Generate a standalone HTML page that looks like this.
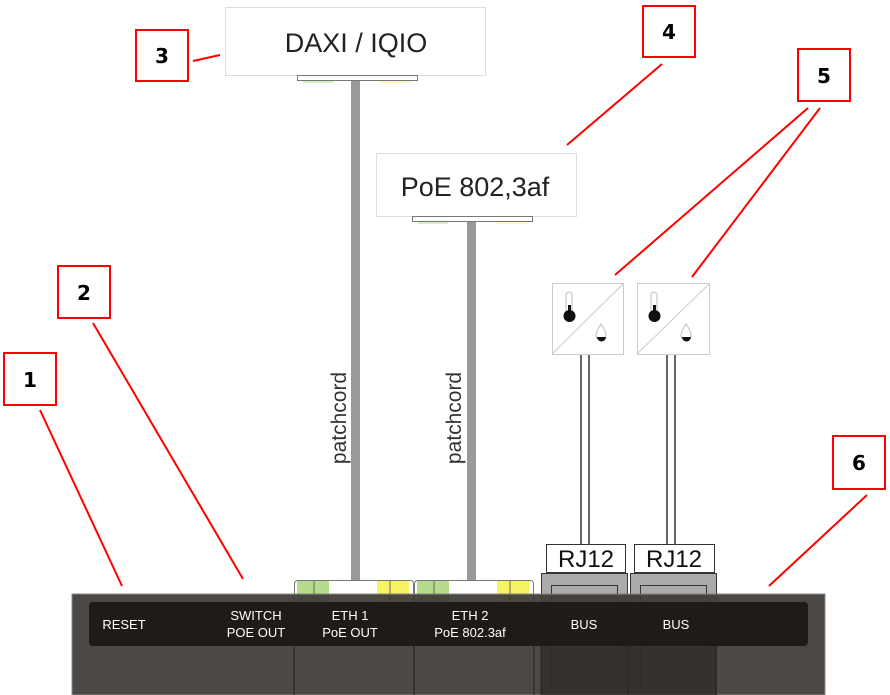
<!DOCTYPE html>
<html><head><meta charset="utf-8"><style>
html,body{margin:0;padding:0;background:#fff;width:890px;height:695px;overflow:hidden}
svg{display:block}
.n{font-family:"DejaVu Sans",sans-serif;font-weight:bold;font-size:20px;text-anchor:middle}
.w{font-family:"Liberation Sans",sans-serif;fill:#fff;font-size:13px;text-anchor:middle}
</style></head><body>
<svg width="890" height="695" viewBox="0 0 890 695" xmlns="http://www.w3.org/2000/svg">
<rect x="225.5" y="7.5" width="260" height="68" fill="#fff" stroke="#ddd"/>
<text x="356" y="52" font-family="Liberation Sans,sans-serif" font-size="27" text-anchor="middle" fill="#222">DAXI / IQIO</text>
<rect x="297.5" y="75.5" width="120" height="5" fill="#fff" stroke="#777"/>
<line x1="303" y1="82" x2="333" y2="82" stroke="#b5dc8a"/><line x1="380" y1="82" x2="412" y2="82" stroke="#f4f08a"/>
<rect x="351" y="81" width="9" height="505" fill="#999"/>
<rect x="376.5" y="153.5" width="200" height="63" fill="#fff" stroke="#ddd"/>
<text x="475" y="196" font-family="Liberation Sans,sans-serif" font-size="27" text-anchor="middle" fill="#222">PoE 802,3af</text>
<rect x="412.5" y="216.5" width="120" height="5" fill="#fff" stroke="#777"/>
<line x1="418" y1="223" x2="448" y2="223" stroke="#b5dc8a"/><line x1="496" y1="223" x2="528" y2="223" stroke="#f4f08a"/>
<rect x="467" y="222" width="9" height="364" fill="#999"/>
<text transform="translate(339,418) rotate(-90)" font-family="Liberation Sans,sans-serif" font-size="21" text-anchor="middle" fill="#333" dy="7">patchcord</text>
<text transform="translate(454,418) rotate(-90)" font-family="Liberation Sans,sans-serif" font-size="21" text-anchor="middle" fill="#333" dy="7">patchcord</text>
<g stroke="#ccc" fill="#fff">
<rect x="552.5" y="283.5" width="71" height="71"/><line x1="552" y1="354" x2="623" y2="284"/>
<rect x="637.5" y="283.5" width="72" height="71"/><line x1="637" y1="354" x2="709" y2="284"/>
</g>
<g fill="none" stroke="#bbb"><path d="M601 324 q-5 7 -5 11 a5 5 0 0 0 10 0 q0 -4 -5 -11z"/><path d="M686 324 q-5 7 -5 11 a5 5 0 0 0 10 0 q0 -4 -5 -11z"/>
<rect x="566" y="292" width="6" height="24" rx="3"/><rect x="651" y="292" width="6" height="24" rx="3"/></g>
<g fill="#111">
<rect x="568" y="305" width="3" height="10"/><circle cx="569.5" cy="316" r="6"/>
<rect x="653" y="305" width="3" height="10"/><circle cx="654.5" cy="316" r="6"/>
<path d="M597 337 a4 4 0 0 0 9 0z"/><path d="M682 337 a4 4 0 0 0 9 0z"/>
</g>
<g stroke="#333" stroke-width="1.5">
<line x1="581" y1="355" x2="581" y2="545"/><line x1="589" y1="355" x2="589" y2="545"/>
<line x1="667" y1="355" x2="667" y2="545"/><line x1="675" y1="355" x2="675" y2="545"/>
</g>
<g stroke="#333" fill="#fff"><rect x="546.5" y="544.5" width="79" height="28"/><rect x="634.5" y="544.5" width="80" height="28"/></g>
<text x="586" y="567" font-family="Liberation Sans,sans-serif" font-size="24" text-anchor="middle" fill="#111">RJ12</text>
<text x="674" y="567" font-family="Liberation Sans,sans-serif" font-size="24" text-anchor="middle" fill="#111">RJ12</text>
<g stroke="#333" fill="#aaa"><rect x="541.5" y="573.5" width="86" height="122"/><rect x="630.5" y="573.5" width="86" height="122"/>
<rect x="551.5" y="585.5" width="66" height="110"/><rect x="640.5" y="585.5" width="66" height="110"/></g>
<rect x="294.5" y="580.5" width="119" height="115" rx="3" fill="#fff" stroke="#777"/>
<rect x="414.5" y="580.5" width="119" height="115" rx="3" fill="#fff" stroke="#777"/>
<rect x="297" y="581" width="32" height="20" fill="#b5dc8a"/><rect x="377" y="581" width="32" height="20" fill="#f7f365"/>
<rect x="417" y="581" width="32" height="20" fill="#b5dc8a"/><rect x="497" y="581" width="32" height="20" fill="#f7f365"/>
<g stroke="#666"><line x1="314" y1="581" x2="314" y2="600"/><line x1="390" y1="581" x2="390" y2="600"/><line x1="434" y1="581" x2="434" y2="600"/><line x1="510" y1="581" x2="510" y2="600"/></g>
<rect x="72" y="594" width="753" height="101" fill="#3e3a38" fill-opacity="0.93" stroke="#8a8886"/>
<rect x="541" y="646" width="176" height="49" fill="#2a2624" fill-opacity="0.6"/>
<g stroke="#2a2624"><line x1="294" y1="646" x2="294" y2="695"/><line x1="414" y1="646" x2="414" y2="695"/><line x1="534" y1="646" x2="534" y2="695"/><line x1="541" y1="646" x2="541" y2="695"/><line x1="628" y1="646" x2="628" y2="695"/><line x1="716" y1="646" x2="716" y2="695"/></g>
<rect x="89" y="602" width="719" height="44" rx="4" fill="#1f1b19"/>
<text class="w" x="124" y="629">RESET</text>
<text class="w" x="256" y="620">SWITCH</text><text class="w" x="256" y="637">POE OUT</text>
<text class="w" x="350" y="620">ETH 1</text><text class="w" x="350" y="637">PoE OUT</text>
<text class="w" x="470" y="620">ETH 2</text><text class="w" x="470" y="637">PoE 802.3af</text>
<text class="w" x="584" y="629">BUS</text><text class="w" x="676" y="629">BUS</text>
<g stroke="#f00" stroke-width="2" fill="#fff">
<rect x="4" y="353" width="52" height="52"/><rect x="58" y="266" width="52" height="52"/>
<rect x="136" y="30" width="52" height="51"/><rect x="643" y="6" width="52" height="51"/>
<rect x="798" y="49" width="52" height="52"/><rect x="833" y="436" width="52" height="53"/>
<line x1="40" y1="410" x2="122" y2="586"/><line x1="93" y1="323" x2="243" y2="579"/>
<line x1="193" y1="61" x2="220" y2="55"/><line x1="662" y1="64" x2="567" y2="145"/>
<line x1="808" y1="108" x2="615" y2="275"/><line x1="820" y1="108" x2="692" y2="277"/>
<line x1="867" y1="495" x2="769" y2="586"/>
</g>
<text class="n" x="30" y="387">1</text><text class="n" x="84" y="300">2</text>
<text class="n" x="162" y="63">3</text><text class="n" x="669" y="39">4</text>
<text class="n" x="824" y="83">5</text><text class="n" x="859" y="470">6</text>
</svg>
</body></html>
